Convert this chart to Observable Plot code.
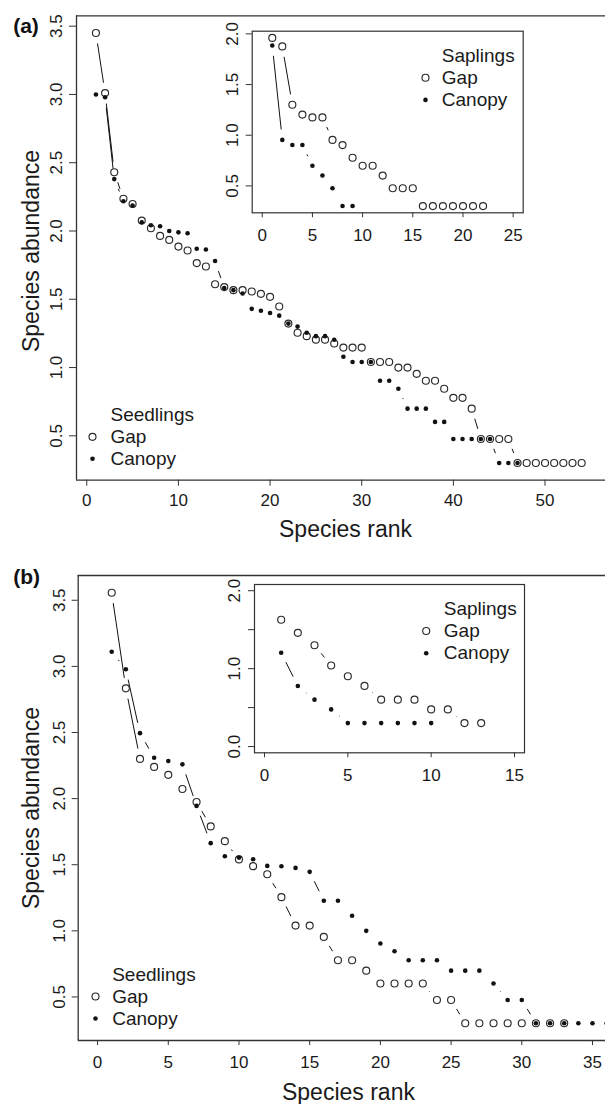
<!DOCTYPE html>
<html><head><meta charset="utf-8">
<script src="https://cdn.jsdelivr.net/npm/d3@7"></script>
<script src="https://cdn.jsdelivr.net/npm/@observablehq/plot@0.6"></script>
<style>
body{margin:0;background:#fff;}
#wrap{position:relative;width:605px;height:1104px;overflow:hidden;background:#fff;}
#wrap svg{position:absolute;background:transparent !important;}
</style></head><body><div id="wrap"></div>
<script>
// ---------- data (log abundance by species rank) ----------
const seedGapA = [3.45,3.01,2.43,2.236,2.198,2.076,2.02,1.964,1.935,1.886,1.857,1.765,1.74,1.61,1.589,1.567,1.567,1.557,1.54,1.518,1.447,1.322,1.255,1.23,1.204,1.204,1.176,1.146,1.146,1.146,1.041,1.041,1.041,1.0,1.0,0.954,0.903,0.903,0.845,0.778,0.778,0.699,0.477,0.477,0.477,0.477,0.301,0.301,0.301,0.301,0.301,0.301,0.301,0.301];
const seedCanA = [3.0,2.98,2.38,2.218,2.186,2.064,2.042,2.035,2.0,1.99,1.984,1.87,1.865,1.78,1.582,1.567,1.542,1.43,1.416,1.4,1.38,1.322,1.3,1.255,1.23,1.23,1.204,1.079,1.041,1.041,1.041,0.903,0.903,0.845,0.699,0.699,0.699,0.602,0.602,0.477,0.477,0.477,0.477,0.477,0.301,0.301,0.301];
const sapGapA = [1.96,1.876,1.301,1.204,1.176,1.176,0.954,0.903,0.778,0.699,0.699,0.602,0.477,0.477,0.477,0.301,0.301,0.301,0.301,0.301,0.301,0.301];
const sapCanA = [1.886,0.954,0.903,0.903,0.699,0.602,0.477,0.301,0.301];

const seedGapB = [3.557,2.834,2.30,2.24,2.18,2.073,1.974,1.79,1.678,1.54,1.489,1.428,1.255,1.04,1.04,0.954,0.778,0.778,0.699,0.602,0.602,0.602,0.602,0.477,0.477,0.301,0.301,0.301,0.301,0.301,0.301,0.301,0.301];
const seedCanB = [3.111,2.978,2.495,2.309,2.284,2.259,1.945,1.663,1.564,1.554,1.541,1.491,1.489,1.476,1.446,1.228,1.228,1.114,1.0,0.904,0.846,0.778,0.778,0.778,0.699,0.699,0.699,0.602,0.477,0.477,0.301,0.301,0.301,0.301,0.301,0.301];
const sapGapB = [1.627,1.46,1.30,1.04,0.903,0.778,0.602,0.602,0.602,0.477,0.477,0.301,0.301];
const sapCanB = [1.204,0.778,0.602,0.477,0.301,0.301,0.301,0.301,0.301,0.301];

const yTicksMain = [0.5,1.0,1.5,2.0,2.5,3.0,3.5];
const xTicksA = [0,10,20,30,40,50];
const xTicksB = [0,5,10,15,20,25,30,35];
const xTicksInsetA = [0,5,10,15,20,25];
const yTicksInsetA = [0.5,1.0,1.5,2.0];
const xTicksInsetB = [0,5,10,15];
const yTicksInsetB = [0,0.5,1.0,1.5,2.0];
const legendSeed = ["Seedlings","Gap","Canopy"];
const legendSap = ["Saplings","Gap","Canopy"];

// ---------- helpers ----------
const FONT = '"Liberation Sans", Arial, Helvetica, sans-serif';
const INK = "#1a1a1a", AX = "#333";
const rows = vals => vals.map((v,i)=>({rank:i+1, v}));
function rExpand(vals, f=0.04){const lo=d3.min(vals), hi=d3.max(vals), e=(hi-lo)*f; return [lo-e, hi+e];}
// R type="b": segments between consecutive points, shortened by a gap around each point
function segs(vals, kx, ky, gap){
  const out=[];
  for(let i=0;i<vals.length-1;i++){
    const x1=i+1,y1=vals[i],x2=i+2,y2=vals[i+1];
    const L=Math.hypot((x2-x1)*kx,(y2-y1)*ky);
    if(L>2*gap){const f=gap/L;
      out.push({x1:x1+(x2-x1)*f,y1:y1+(y2-y1)*f,x2:x2-(x2-x1)*f,y2:y2-(y2-y1)*f});}
  }
  return out;
}
function panel(c){
  const kx=(c.width-c.ml-c.mr)/(c.xd[1]-c.xd[0]);
  const ky=(c.height-c.mt-c.mb)/(c.yd[1]-c.yd[0]);
  const marks=[];
  if(c.box){ marks.push(Plot.frame({stroke:AX,strokeWidth:1.2})); }
  else {
    marks.push(Plot.ruleX([c.xd[0]],{stroke:AX,strokeWidth:1.3}));
    marks.push(Plot.ruleY([c.yd[0]],{stroke:AX,strokeWidth:1.3}));
    marks.push(Plot.ruleY([c.yd[1]],{stroke:AX,strokeWidth:1.3}));
  }
  marks.push(Plot.axisX({ticks:c.xt,tickSize:c.ts,tickPadding:c.xpad,tickFormat:d=>String(d),label:null,stroke:AX,fill:INK}));
  marks.push(Plot.axisY({ticks:c.yt,tickSize:c.ts+1,tickPadding:c.ypad,tickRotate:-90,tickFormat:c.yfmt,label:null,stroke:AX,fill:INK}));
  const g=c.gapLen;
  marks.push(Plot.link(segs(c.gap,kx,ky,g),{x1:"x1",y1:"y1",x2:"x2",y2:"y2",stroke:"#111",strokeWidth:1}));
  marks.push(Plot.link(segs(c.can,kx,ky,g),{x1:"x1",y1:"y1",x2:"x2",y2:"y2",stroke:"#111",strokeWidth:1}));
  marks.push(Plot.dot(rows(c.gap),{x:"rank",y:"v",r:3.5,stroke:"#2a2a2a",strokeWidth:1.15,fill:"none"}));
  marks.push(Plot.dot(rows(c.can),{x:"rank",y:"v",r:2.3,fill:"#111",stroke:"none"}));
  // legend
  const L=c.leg;
  marks.push(Plot.text([L.labels[0]],{text:d=>d,frameAnchor:L.anchor,dx:L.tx,dy:L.y0,textAnchor:"start",lineAnchor:"middle",fontSize:L.fs,fill:INK}));
  marks.push(Plot.text([L.labels[1]],{text:d=>d,frameAnchor:L.anchor,dx:L.tx,dy:L.y0+L.step,textAnchor:"start",lineAnchor:"middle",fontSize:L.fs,fill:INK}));
  marks.push(Plot.text([L.labels[2]],{text:d=>d,frameAnchor:L.anchor,dx:L.tx,dy:L.y0+2*L.step,textAnchor:"start",lineAnchor:"middle",fontSize:L.fs,fill:INK}));
  marks.push(Plot.dot([0],{frameAnchor:L.anchor,dx:L.sx,dy:L.y0+L.step,r:3.5,stroke:"#2a2a2a",strokeWidth:1.15,fill:"none"}));
  marks.push(Plot.dot([0],{frameAnchor:L.anchor,dx:L.sx,dy:L.y0+2*L.step,r:2.3,fill:"#111"}));
  if(c.extra) marks.push(...c.extra);
  const svg=Plot.plot({
    width:c.width,height:c.height,
    marginLeft:c.ml,marginRight:c.mr,marginTop:c.mt,marginBottom:c.mb,
    x:{domain:c.xd},y:{domain:c.yd},
    style:{fontFamily:FONT,fontSize:"17px",color:INK,background:"transparent",overflow:"hidden"},
    marks
  });
  svg.style.left=c.left+"px"; svg.style.top=c.top+"px";
  return svg;
}
const wrap=document.getElementById("wrap");
const ymainFmt=d=>d.toFixed(1);

// ---------- panel (a) ----------
wrap.appendChild(panel({
  left:0,top:0,width:605,height:560,ml:76,mr:0,mt:15.3,mb:80.3,
  xd:[-1.12,56.6],yd:rExpand(seedGapA.concat(seedCanA)),
  xt:xTicksA,yt:yTicksMain,yfmt:ymainFmt,ts:6,xpad:8,ypad:7.5,gapLen:10.5,
  gap:seedGapA,can:seedCanA,
  leg:{labels:legendSeed,anchor:"bottom-left",tx:34,sx:16,y0:-65.4,step:22,fs:19},
  extra:[
    Plot.text(["(a)"],{text:d=>d,frameAnchor:"top-left",dx:-63.3,dy:10.5,textAnchor:"start",lineAnchor:"middle",fontSize:21,fontWeight:"bold",fill:"#111"}),
    Plot.text(["Species rank"],{text:d=>d,frameAnchor:"bottom",dx:4.5,dy:57,textAnchor:"middle",lineAnchor:"bottom",fontSize:23,fill:INK}),
    Plot.text(["Species abundance"],{text:d=>d,frameAnchor:"left",rotate:-90,dx:-38,dy:3,textAnchor:"middle",lineAnchor:"bottom",fontSize:23,fill:INK})
  ]
}));
// ---------- panel (b) ----------
wrap.appendChild(panel({
  left:0,top:560,width:605,height:544,ml:77.7,mr:0,mt:15,mb:64,
  xd:[-1.37,35.92],yd:rExpand(seedGapB.concat(seedCanB)),
  xt:xTicksB,yt:yTicksMain,yfmt:ymainFmt,ts:5,xpad:10,ypad:7.5,gapLen:10.5,
  gap:seedGapB,can:seedCanB,
  leg:{labels:legendSeed,anchor:"bottom-left",tx:34,sx:17.3,y0:-66,step:22,fs:19},
  extra:[
    Plot.text(["(b)"],{text:d=>d,frameAnchor:"top-left",dx:-65,dy:1.5,textAnchor:"start",lineAnchor:"middle",fontSize:21,fontWeight:"bold",fill:"#111"}),
    Plot.text(["Species rank"],{text:d=>d,frameAnchor:"bottom",dx:6.6,dy:59.5,textAnchor:"middle",lineAnchor:"bottom",fontSize:23,fill:INK}),
    Plot.text(["Species abundance"],{text:d=>d,frameAnchor:"left",rotate:-90,dx:-39.5,dy:0,textAnchor:"middle",lineAnchor:"bottom",fontSize:23,fill:INK})
  ]
}));
// ---------- inset (a) saplings ----------
wrap.appendChild(panel({
  left:212,top:22,width:313,height:228,ml:39.7,mr:2.3,mt:8.7,mb:37.7,box:true,
  xd:[-1,26],yd:rExpand(sapGapA.concat(sapCanA)),
  xt:xTicksInsetA,yt:yTicksInsetA,yfmt:ymainFmt,ts:5,xpad:11,ypad:8.4,gapLen:10.5,
  gap:sapGapA,can:sapCanA,
  leg:{labels:legendSap,anchor:"top-left",tx:189.6,sx:173.3,y0:24.3,step:22.2,fs:19}
}));
// ---------- inset (b) saplings ----------
wrap.appendChild(panel({
  left:214,top:574,width:312,height:216,ml:40,mr:2,mt:10,mb:37.7,box:true,
  xd:[-0.6,15.6],yd:[-0.08,2.08],
  xt:xTicksInsetB,yt:yTicksInsetB,yfmt:d=>(d%1===0?d.toFixed(1):""),ts:5,xpad:11,ypad:9,gapLen:10.5,
  gap:sapGapB,can:sapCanB,
  leg:{labels:legendSap,anchor:"top-left",tx:189.3,sx:171.7,y0:24.3,step:22.2,fs:19}
}));
</script></body></html>
